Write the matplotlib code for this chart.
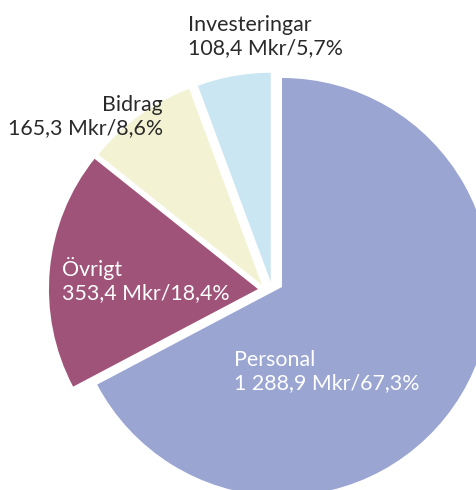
import matplotlib
matplotlib.use("Agg")
import matplotlib.pyplot as plt

# data (clockwise from 12 o'clock)
kategorier = ["Personal", "Övrigt", "Bidrag", "Investeringar"]
mkr = [1288.9, 353.4, 165.3, 108.4]
etiketter = ["Personal\n1 288,9 Mkr/67,3%",
             "Övrigt\n353,4 Mkr/18,4%",
             "Bidrag\n165,3 Mkr/8,6%",
             "Investeringar\n108,4 Mkr/5,7%"]
farger = ["#9aa5d2", "#a05378", "#f3f3d4", "#cae6f2"]

# offset of each wedge from the pie centre (radius units)
forskjutning = [(0, 0), (-0.115, -0.010), (-0.096, 0.010), (-0.054, 0.025)]

W, H = 477, 490
fig = plt.figure(figsize=(W / 100, H / 100), dpi=100)
ax = fig.add_axes([0, 0, 1, 1])

R = 209  # pie radius in px
cx, cy = 282, 287  # pie centre in px (from top-left)

wedges, _ = ax.pie(mkr, colors=farger, startangle=90, counterclock=False,
                   radius=1, center=(0, 0))
for w, (dx, dy) in zip(wedges, forskjutning):
    w.set_center((dx, dy))

ax.set_xlim(-cx / R, (W - cx) / R)
ax.set_ylim(-(H - cy) / R, cy / R)
ax.set_aspect("auto")
ax.axis("off")

font = "Lato"
fs = 15.4
# label positions in px: (x, y top), alignment, colour
pos = [(234, 350, "left", "white"),
       (62, 257, "left", "white"),
       (163, 95, "right", "#2a2a2a"),
       (188, 15, "left", "#2a2a2a")]
for txt, (x, y, ha, c) in zip(etiketter, pos):
    fig.text(x / W, 1 - y / H, txt, ha=ha, va="top", multialignment=ha,
             color=c, fontsize=fs, family=font, linespacing=1.2)

fig.savefig("out.png", dpi=100)
